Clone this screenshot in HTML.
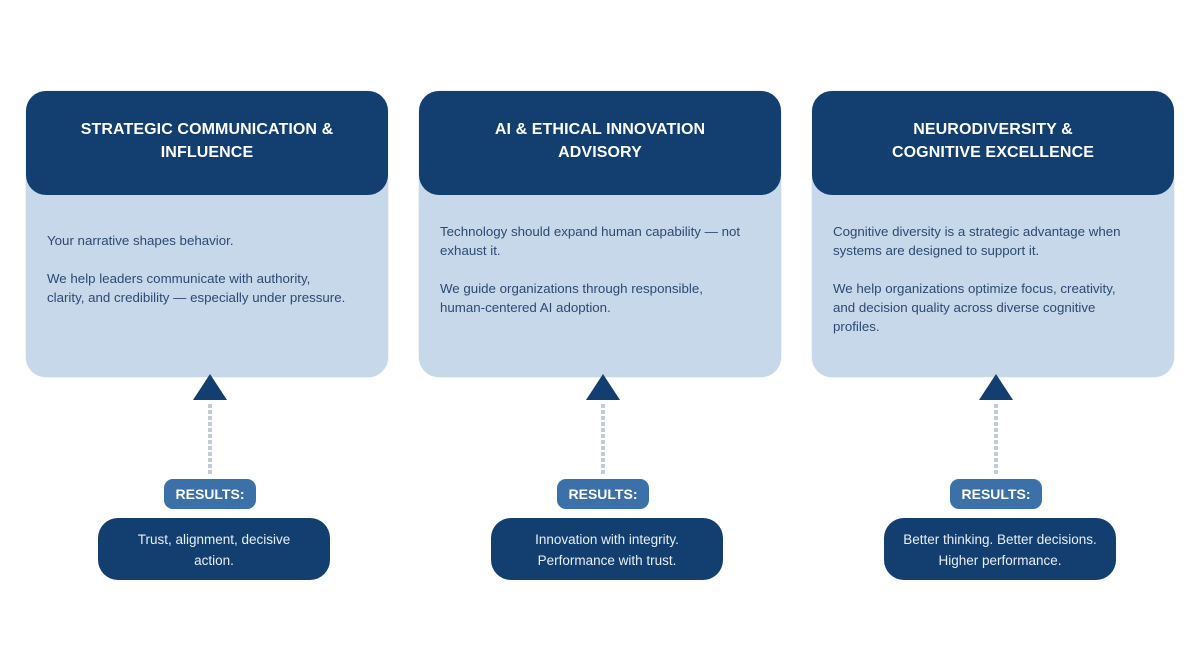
<!DOCTYPE html>
<html><head><style>
body{margin:0;width:1200px;height:672px;background:#fff;position:relative;font-family:"Liberation Sans",sans-serif;overflow:hidden}
.card{position:absolute;top:91px;width:362px;height:286px;background:#c6d8e9;border-radius:20px;box-shadow:0 0 1px #9fb3c8}
.hd{position:absolute;left:0;top:0;width:362px;height:104px;background:#123f6f;border-radius:20px;color:#fff;font-size:16px;font-weight:bold;text-align:center;line-height:23px;box-sizing:border-box;padding-top:27px;letter-spacing:0.1px}
.bd{position:absolute;left:21px;color:#2c4a72;font-size:13.3px;line-height:19px;white-space:nowrap}
.bd p{margin:0 0 19px 0}
.tri{position:absolute;top:374px;width:0;height:0;border-left:17px solid transparent;border-right:17px solid transparent;border-bottom:26px solid #123f6f}
.dot{position:absolute;top:404px;width:4px;height:72px;background:repeating-linear-gradient(#c2ccd8 0 4px,transparent 4px 6px)}
.pill{position:absolute;top:479px;width:92px;height:30px;background:#3b70a9;border-radius:9px;color:#fff;font-weight:bold;font-size:14px;line-height:30px;text-align:center}
.res{position:absolute;top:518px;width:232px;height:62px;background:#123f6f;border-radius:20px;color:#e8eef5;font-size:13.5px;line-height:21px;text-align:center;box-sizing:border-box;padding-top:11px}
</style></head><body>

<div class="card" style="left:26px"><div class="hd">STRATEGIC COMMUNICATION &amp;<br>INFLUENCE</div>
<div class="bd" style="top:140px"><p>Your narrative shapes behavior.</p><p>We help leaders communicate with authority,<br>clarity, and credibility — especially under pressure.</p></div></div>

<div class="card" style="left:419px"><div class="hd">AI &amp; ETHICAL INNOVATION<br>ADVISORY</div>
<div class="bd" style="top:131px"><p>Technology should expand human capability — not<br>exhaust it.</p><p>We guide organizations through responsible,<br>human-centered AI adoption.</p></div></div>

<div class="card" style="left:812px"><div class="hd">NEURODIVERSITY &amp;<br>COGNITIVE EXCELLENCE</div>
<div class="bd" style="top:131px"><p>Cognitive diversity is a strategic advantage when<br>systems are designed to support it.</p><p>We help organizations optimize focus, creativity,<br>and decision quality across diverse cognitive<br>profiles.</p></div></div>

<div class="tri" style="left:193px"></div><div class="dot" style="left:208px"></div>
<div class="pill" style="left:164px">RESULTS:</div>
<div class="res" style="left:98px">Trust, alignment, decisive<br>action.</div>

<div class="tri" style="left:586px"></div><div class="dot" style="left:601px"></div>
<div class="pill" style="left:557px">RESULTS:</div>
<div class="res" style="left:491px">Innovation with integrity.<br>Performance with trust.</div>

<div class="tri" style="left:979px"></div><div class="dot" style="left:994px"></div>
<div class="pill" style="left:950px">RESULTS:</div>
<div class="res" style="left:884px">Better thinking. Better decisions.<br>Higher performance.</div>

</body></html>
